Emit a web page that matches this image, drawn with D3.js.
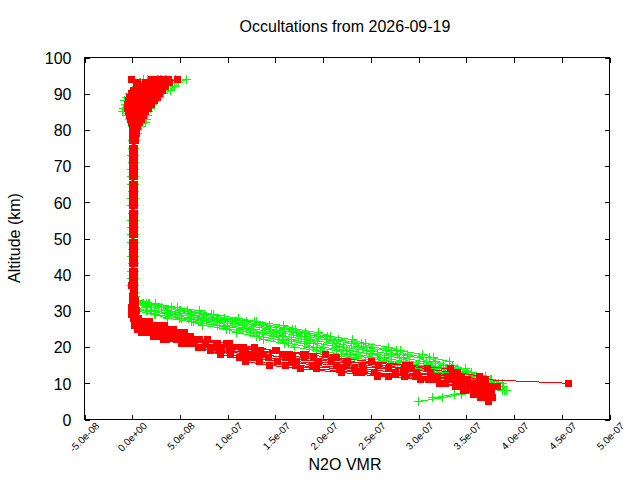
<!DOCTYPE html>
<html><head><meta charset="utf-8">
<script src="https://cdn.jsdelivr.net/npm/d3@7"></script>
<style>
html,body{margin:0;padding:0;background:#fff;}
svg{display:block;}
text{font-family:"Liberation Sans",Arial,sans-serif;fill:#000;}
</style></head><body>
<svg id="chart" width="640" height="480"></svg>
<script>
const title = "Occultations from 2026-09-19";
const xLabel = "N2O VMR";
const yLabel = "Altitude (km)";
const xTickValues = [-5e-8, 0, 5e-8, 1e-7, 1.5e-7, 2e-7, 2.5e-7, 3e-7, 3.5e-7, 4e-7, 4.5e-7, 5e-7];
const xTickLabels = ["-5.0e-08","0.0e+00","5.0e-08","1.0e-07","1.5e-07","2.0e-07","2.5e-07","3.0e-07","3.5e-07","4.0e-07","4.5e-07","5.0e-07"];
const yTickValues = [0,10,20,30,40,50,60,70,80,90,100];
const yTickLabels = ["0","10","20","30","40","50","60","70","80","90","100"];

// altitude levels (km)
const altLow  = [5,6,7,8,9,10,11,12,13,14,15,16,17,18,19,20,21,22,23,24,25,26,27,28,29,30,31,32,33,34,35];
const altMid  = [37,39,41,43,45,47,49,51,53,55,57,59,61,63,65,67,69,71,73,75,77,79];
const altHigh = [81,82,83,84,85,86,87,88,89,90,91,92,93,94];

// green series, VMR in ppb (1e-9)
const greenLow = [
  [null,null,null,null,null,388,376,370,355,349,335,332,316,304,281,268,244,231,208,195,171,158,130,111,85,70,47,24,5,3,2],
  [null,null,null,null,null,384,375,361,355,341,332,318,311,288,277,252,240,216,205,181,168,144,128,97,83,58,47,18,6,2,2],
  [null,null,null,null,389,377,371,357,350,336,326,308,301,278,266,242,230,207,195,172,160,136,120,90,76,51,41,15,6,2,2],
  [null,null,null,null,386,376,362,356,341,335,314,305,284,272,250,237,214,203,180,169,145,133,105,88,62,49,31,17,3,3,1],
  [null,null,null,null,383,369,362,347,341,326,312,290,280,257,245,221,210,187,177,154,143,118,103,75,61,37,31,11,5,1,2],
  [null,null,null,392,378,368,353,346,331,324,300,286,264,252,228,217,194,183,161,151,127,115,89,73,47,36,20,12,2,2,1],
  [null,null,null,390,379,360,353,337,331,315,298,272,259,235,224,200,190,167,158,136,125,100,86,59,45,23,19,6,4,1,1],
  [null,null,null,388,372,360,344,336,322,314,287,266,249,225,214,190,180,157,148,127,116,91,78,52,38,16,14,4,2,2,1],
  [null,315,338,358,371,355,340,332,317,309,281,258,233,219,197,186,164,153,133,124,102,89,64,50,24,15,3,4,1,1,1],
  [300,325,345,362,368,349,339,323,316,300,278,244,229,205,193,170,160,138,130,109,99,74,62,37,23,4,3,1,1,2,1]
];
const greenMid = [
  [2,1,1,0,1,2,1,0,1,1,2,1,0,1,2,1,1,0,1,2,3,4],
  [1,0,-1,1,0,1,0,1,2,0,1,0,1,1,0,-1,1,2,1,2,2,5],
  [0,1,2,1,-1,0,1,2,1,0,0,1,2,0,1,0,2,1,0,1,1,3],
  [1,2,0,1,1,0,-1,1,0,2,1,1,-1,2,1,1,0,1,2,0,2,2],
  [-1,0,1,0,2,1,1,0,-1,1,0,2,1,0,1,2,1,0,1,1,0,1],
  [0,-1,0,2,1,1,0,2,1,-1,1,0,1,2,0,1,-1,1,0,2,1,1],
  [1,1,2,0,0,2,1,1,0,1,2,0,0,1,1,0,2,1,1,0,1,2],
  [2,0,1,1,-1,1,2,0,1,1,0,1,2,1,-1,1,0,2,1,1,2,3],
  [0,1,0,2,1,0,1,1,2,0,1,-1,1,0,2,1,1,0,-1,1,1,2],
  [1,2,1,0,1,1,0,-1,1,2,1,1,0,1,0,2,0,1,1,0,2,1]
];
const greenHigh = [
  [10,14,15,16,17,19,21,24,28,33,40,44,48,57],
  [5,7,9,11,13,15,17,20,23,26,30,33,38,45],
  [3,5,6,8,10,12,14,16,19,22,25,28,32,36],
  [2,3,4,5,7,9,11,13,15,18,21,24,27,30],
  [0,-1,-3,-6,-10,-9,-7,-8,-6,-3,0,4,8,12],
  [1,1,2,3,4,5,6,8,10,12,14,17,20,26],
  [0,0,-1,-2,-4,-6,-5,-4,-2,0,2,5,9,16],
  [2,3,4,6,7,9,10,12,14,16,19,22,26,31],
  [1,2,3,4,6,7,9,11,13,15,17,20,23,27],
  [3,4,5,7,8,10,12,14,17,20,23,27,31,35]
];

// red series, VMR in ppb (1e-9)
const redLow = [
  [null,null,null,null,null,457,370,364,341,333,290,251,214,202,150,128,99,79,60,55,41,34,17,7,3,2,3,1,2,1,2],
  [null,null,null,null,383,368,365,345,335,309,286,226,211,182,151,114,102,68,61,45,43,26,18,5,2,4,2,1,3,2,1],
  [null,null,null,null,375,364,351,341,312,293,258,224,190,179,134,117,88,70,51,48,33,27,13,6,1,2,3,2,1,1,2],
  [null,null,null,null,366,362,343,330,298,285,241,209,180,160,133,103,89,58,52,37,34,20,14,4,3,-1,2,3,1,2,1],
  [null,null,null,376,361,356,335,320,284,268,224,195,168,157,119,104,77,60,41,38,25,21,10,5,2,1,0,2,1,2,1],
  [null,null,null,369,359,345,334,300,276,242,214,172,161,137,116,92,77,50,41,27,25,13,9,3,2,3,1,0,2,1,1],
  [null,null,372,364,351,344,320,297,254,233,189,167,143,131,102,91,65,50,31,28,16,13,6,3,0,2,1,1,0,1,2],
  [null,377,365,357,346,339,312,285,240,217,171,152,131,120,94,86,59,46,26,23,12,10,5,2,2,0,1,2,1,0,1],
  [null,369,361,349,344,328,310,268,235,193,161,133,124,103,90,74,58,36,27,15,11,4,4,1,0,1,-1,1,0,1,1],
  [373,365,357,347,339,322,302,257,219,176,144,119,112,92,82,69,52,33,22,10,6,2,3,1,-1,1,0,1,2,0,1]
];
const redMid = [
  [1,1,0,1,2,1,1,0,1,1,0,1,1,2,1,1,0,1,1,2,2,4],
  [0,1,1,2,1,0,1,1,2,1,1,0,1,1,0,1,2,1,1,1,3,3],
  [1,2,1,0,1,1,2,1,0,1,1,2,1,0,1,1,1,2,0,1,2,2],
  [2,1,1,1,0,1,1,2,1,1,0,1,2,1,1,0,1,1,2,1,1,1],
  [0,0,1,1,1,2,0,1,1,0,2,1,1,1,0,2,1,0,1,1,0,0],
  [1,1,2,1,1,0,1,1,0,2,1,1,0,1,2,1,1,1,0,1,1,2],
  [1,0,1,2,1,1,1,0,1,1,1,0,2,1,1,1,0,2,1,0,1,1],
  [2,1,0,1,1,2,1,1,1,0,1,1,1,2,1,0,1,1,1,2,1,3],
  [-1,1,1,0,1,1,0,1,2,1,1,1,0,1,1,2,1,0,1,1,2,2],
  [1,1,1,1,2,0,1,1,1,1,0,2,1,1,1,1,2,1,1,0,1,1]
];
const redHigh = [
  [6,8,10,12,14,17,20,23,26,29,32,35,39,47],
  [5,7,9,11,13,15,17,19,22,25,28,31,34,38],
  [3,4,5,7,9,11,13,15,18,21,24,27,30,33],
  [1,2,2,3,2,0,-2,-1,1,4,7,10,14,20],
  [0,-1,-2,-3,-4,-5,-5,-4,-3,-1,1,4,6,-1],
  [2,3,4,5,6,8,10,12,14,17,20,23,26,29],
  [1,1,2,3,4,5,6,8,10,12,15,18,21,24],
  [2,2,3,4,5,6,8,10,12,14,17,20,24,28],
  [1,2,3,5,7,9,11,13,16,19,22,25,28,36],
  [0,1,1,2,3,3,4,5,7,9,11,14,18,22]
];

(function () {
const greenColor = "#00ff00", redColor = "#ff0000";
const W = 640, H = 480, pL = 84.5, pR = 609.5, pT = 57.5, pB = 419.5;

const x = d3.scaleLinear().domain([-5e-8, 5e-7]).range([pL, pR]);
const y = d3.scaleLinear().domain([0, 100]).range([pB, pT]);
const svg = d3.select("#chart");
svg.append("rect").attr("width", W).attr("height", H).attr("fill", "#fff");

const alts = altLow.concat(altMid, altHigh);
function build(low, mid, high) {
  return low.map((l, i) => {
    const vals = l.concat(mid[i], high[i]);
    return alts.map((a, j) => vals[j] == null ? null : {alt: a, v: vals[j] * 1e-9}).filter(d => d);
  });
}
const greenProfiles = build(greenLow, greenMid, greenHigh);
const redProfiles = build(redLow, redMid, redHigh);

svg.append("clipPath").attr("id", "clip").append("rect")
  .attr("x", pL).attr("y", pT).attr("width", pR - pL).attr("height", pB - pT);
const plot = svg.append("g").attr("clip-path", "url(#clip)").attr("shape-rendering", "crispEdges");
const line = d3.line().x(d => x(d.v)).y(d => y(d.alt));

greenProfiles.forEach(g => {
  plot.append("path").datum(g).attr("d", line).attr("fill", "none").attr("stroke", greenColor).attr("stroke-width", 1);
  plot.append("g").selectAll("path").data(g).join("path")
    .attr("transform", d => `translate(${x(d.v)},${y(d.alt)})`)
    .attr("d", "M-4.5,0H4.5M0,-4.5V4.5").attr("stroke", greenColor).attr("stroke-width", 1).attr("fill", "none");
});
redProfiles.forEach(r => {
  plot.append("path").datum(r).attr("d", line).attr("fill", "none").attr("stroke", redColor).attr("stroke-width", 1);
  plot.append("g").selectAll("rect").data(r).join("rect")
    .attr("x", d => x(d.v) - 3.5).attr("y", d => y(d.alt) - 3.5)
    .attr("width", 7).attr("height", 7).attr("fill", redColor);
});

function styleAxis(g) {
  g.attr("font-family", null).attr("font-size", null).attr("shape-rendering", "crispEdges");
  g.select(".domain").remove();
  g.selectAll(".tick line").attr("stroke", "#000");
}
const gx = svg.append("g").attr("transform", `translate(0,${pB})`)
  .call(d3.axisBottom(x).tickValues(xTickValues).tickFormat((d, i) => xTickLabels[i]).tickSizeInner(-5).tickSizeOuter(0));
styleAxis(gx);
gx.selectAll("text").attr("x", 0).attr("y", 0).attr("dy", null)
  .attr("text-anchor", "end").attr("transform", "translate(15,7) rotate(-45)")
  .style("font-size", "10px");

const gt = svg.append("g").attr("transform", `translate(0,${pT})`)
  .call(d3.axisTop(x).tickValues(xTickValues).tickFormat("").tickSizeInner(-5).tickSizeOuter(0));
styleAxis(gt);

const gy = svg.append("g").attr("transform", `translate(${pL},0)`)
  .call(d3.axisLeft(y).tickValues(yTickValues).tickFormat((d, i) => yTickLabels[i]).tickSizeInner(-5).tickSizeOuter(0).tickPadding(13));
styleAxis(gy);
gy.selectAll("text").attr("dy", "0.36em").style("font-size", "16px");

const gr = svg.append("g").attr("transform", `translate(${pR},0)`)
  .call(d3.axisRight(y).tickValues(yTickValues).tickFormat("").tickSizeInner(-5).tickSizeOuter(0));
styleAxis(gr);

svg.append("rect").attr("x", pL).attr("y", pT).attr("width", pR - pL).attr("height", pB - pT)
  .attr("fill", "none").attr("stroke", "#000").attr("stroke-width", 1).attr("shape-rendering", "crispEdges");

svg.append("text").attr("x", 345).attr("y", 32).attr("text-anchor", "middle").style("font-size", "16px").text(title);
svg.append("text").attr("x", 345).attr("y", 470).attr("text-anchor", "middle").style("font-size", "16px").text(xLabel);
svg.append("text").attr("transform", "translate(20,238) rotate(-90)").attr("text-anchor", "middle").style("font-size", "16px").text(yLabel);
})();
</script>
</body></html>
